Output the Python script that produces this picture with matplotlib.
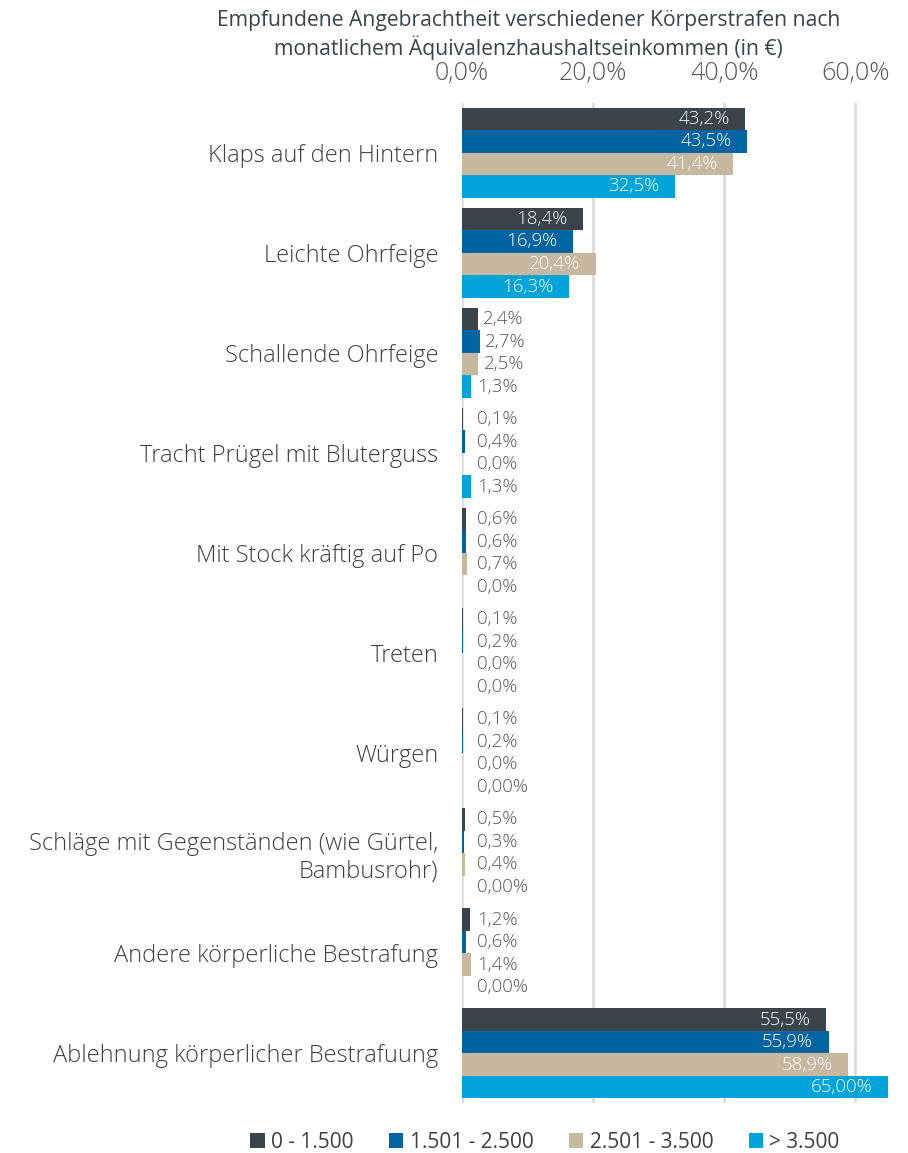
import numpy as np
import matplotlib.pyplot as plt

plt.rcParams['font.family'] = ['Open Sans', 'DejaVu Sans']

categories = ["Klaps auf den Hintern", "Leichte Ohrfeige", "Schallende Ohrfeige",
              "Tracht Prügel mit Bluterguss", "Mit Stock kräftig auf Po", "Treten",
              "Würgen", "Schläge mit Gegenständen (wie Gürtel,\nBambusrohr)",
              "Andere körperliche Bestrafung", "Ablehnung körperlicher Bestrafuung"]
series_names = ["0 - 1.500", "1.501 - 2.500", "2.501 - 3.500", "> 3.500"]
income_low = [43.2, 18.4, 2.4, 0.1, 0.6, 0.1, 0.1, 0.5, 1.2, 55.5]
income_mid = [43.5, 16.9, 2.7, 0.4, 0.6, 0.2, 0.2, 0.3, 0.6, 55.9]
income_upper = [41.4, 20.4, 2.5, 0.0, 0.7, 0.0, 0.0, 0.4, 1.4, 58.9]
income_high = [32.5, 16.3, 1.3, 1.3, 0.0, 0.0, 0.0, 0.0, 0.0, 65.0]
# some labels in the source carry two decimals
labels_high = ["32,5%", "16,3%", "1,3%", "1,3%", "0,0%", "0,0%", "0,00%", "0,00%", "0,00%", "65,00%"]
colors = ["#39444B", "#0063A2", "#C7B8A0", "#00A3DA"]

def fmt(v):
    return f"{v:.1f}%".replace(".", ",")

all_series = [income_low, income_mid, income_upper, income_high]
all_labels = [[fmt(v) for v in income_low], [fmt(v) for v in income_mid],
              [fmt(v) for v in income_upper], labels_high]

fig = plt.figure(figsize=(9.08, 11.53), dpi=100)
ax = fig.add_axes([0.5088, 0.043, 0.473, 0.868])

y = np.arange(len(categories))
bh = 0.225
for i, (vals, labs) in enumerate(zip(all_series, all_labels)):
    pos = y - 1.5 * bh + i * bh
    ax.barh(pos, vals, height=bh, color=colors[i], label=series_names[i], clip_on=False, zorder=3)
    for p, v, lab in zip(pos, vals, labs):
        if v > 10:
            ax.annotate(lab, (v, p), xytext=(-11, 0), textcoords="offset points",
                        ha="right", va="center", color="white", fontsize=13.5, fontweight="light")
        else:
            ax.annotate(lab, (max(v, 1.4), p), xytext=(4, 0), textcoords="offset points",
                        ha="left", va="center", color="#595959", fontsize=13.5, fontweight="light")

ax.set_ylim(len(categories) - 0.5, -0.5)
ax.set_xlim(0, 65.5)
ax.set_xticks([0, 20, 40, 60])
ax.set_xticklabels(["0,0%", "20,0%", "40,0%", "60,0%"], fontsize=18, color="#595959", fontweight="light")
ax.xaxis.tick_top()
ax.tick_params(axis="x", length=0, pad=12)
ax.set_yticks(y)
ax.set_yticklabels(categories, fontsize=17, color="#404040", fontweight="light")
ax.tick_params(axis="y", length=0, pad=17)
ax.grid(axis="x", color="#D9D9D9", linewidth=1.8, zorder=0)
for s in ax.spines.values():
    s.set_visible(False)

fig.suptitle("Empfundene Angebrachtheit verschiedener Körperstrafen nach\nmonatlichem Äquivalenzhaushaltseinkommen (in €)",
             x=0.582, y=0.991, fontsize=15.2, color="#39444B")

fig.legend(loc="lower center", bbox_to_anchor=(0.6, -0.016), ncol=4, frameon=False,
           handlelength=0.7, handleheight=0.7, handletextpad=0.3, columnspacing=1.7,
           fontsize=15, labelcolor="#404040")

plt.savefig("out.png", dpi=100)
